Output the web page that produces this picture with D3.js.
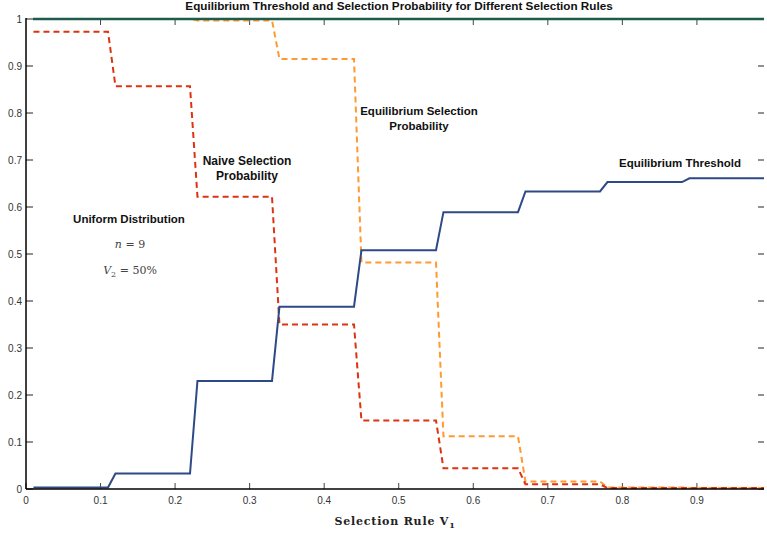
<!DOCTYPE html>
<html>
<head>
<meta charset="utf-8">
<script src="https://cdn.jsdelivr.net/npm/d3@7"></script>
<style>
	body { margin: 0; background: #fff; }
	svg text { font-family: "Liberation Sans", Arial, sans-serif; }
</style>
</head>
<body>
<div id="chart"></div>
<script>
	// step vertices
	var ruleX = [0.01, 0.11, 0.12, 0.22, 0.23, 0.33, 0.34, 0.44, 0.45, 0.55, 0.56, 0.66, 0.67, 0.77, 0.78, 0.88, 0.89, 0.99];
	var thresholdY = [0.003, 0.003, 0.033, 0.033, 0.23, 0.23, 0.388, 0.388, 0.508, 0.508, 0.589, 0.589, 0.633, 0.633, 0.653, 0.653, 0.661, 0.661];
	var naiveY = [0.973, 0.973, 0.857, 0.857, 0.622, 0.622, 0.35, 0.35, 0.146, 0.146, 0.044, 0.044, 0.01, 0.01, 0.002, 0.002, 0.002, 0.002];
	var eqSelY = [1, 1, 1, 1, 0.997, 0.997, 0.915, 0.915, 0.482, 0.482, 0.112, 0.112, 0.016, 0.016, 0.003, 0.003, 0.002, 0.002];
	var xTicks = [0, 0.1, 0.2, 0.3, 0.4, 0.5, 0.6, 0.7, 0.8, 0.9];
	var yTicks = [0, 0.1, 0.2, 0.3, 0.4, 0.5, 0.6, 0.7, 0.8, 0.9, 1];

	var width = 767, height = 533;
	var margin = { left: 26, right: 3, top: 19, bottom: 44 };

	var svg = d3.select("#chart").append("svg")
		.attr("width", width)
		.attr("height", height);

	var x = d3.scaleLinear().domain([0, 0.99]).range([margin.left, width - margin.right]);
	var y = d3.scaleLinear().domain([0, 1]).range([height - margin.bottom, margin.top]);

	// ticks, all pointing inside
	var tickCol = "#444";
	svg.append("g").selectAll("line.xb").data(xTicks).enter().append("line")
		.attr("x1", function(d) { return x(d); }).attr("x2", function(d) { return x(d); })
		.attr("y1", y(0)).attr("y2", y(0) - 6)
		.attr("stroke", tickCol).attr("stroke-width", 1);
	svg.append("g").selectAll("line.xt").data(xTicks.slice(1)).enter().append("line")
		.attr("x1", function(d) { return x(d); }).attr("x2", function(d) { return x(d); })
		.attr("y1", y(1)).attr("y2", y(1) + 6)
		.attr("stroke", tickCol).attr("stroke-width", 1);
	svg.append("g").selectAll("line.yl").data(yTicks).enter().append("line")
		.attr("x1", x(0)).attr("x2", x(0) + 7)
		.attr("y1", function(d) { return y(d); }).attr("y2", function(d) { return y(d); })
		.attr("stroke", "#222").attr("stroke-width", 1);
	svg.append("g").selectAll("line.yr").data(yTicks).enter().append("line")
		.attr("x1", width - margin.right - 6).attr("x2", width - margin.right)
		.attr("y1", function(d) { return y(d); }).attr("y2", function(d) { return y(d); })
		.attr("stroke", "#222").attr("stroke-width", 1);

	// tick labels
	svg.append("g").selectAll("text").data(xTicks).enter().append("text")
		.attr("x", function(d) { return x(d); })
		.attr("y", y(0) + 15)
		.attr("text-anchor", "middle")
		.style("font-size", "10px").style("fill", "#333")
		.text(function(d) { return d; });
	svg.append("g").selectAll("text").data(yTicks).enter().append("text")
		.attr("x", x(0) - 4)
		.attr("y", function(d) { return y(d) + 3.5; })
		.attr("text-anchor", "end")
		.style("font-size", "10px").style("fill", "#333")
		.text(function(d) { return d; });

	// series
	function pts(ys) {
		return ruleX.map(function(v, i) { return [v, ys[i]]; });
	}
	var line = d3.line().x(function(d) { return x(d[0]); }).y(function(d) { return y(d[1]); });

	svg.append("path").datum(pts(eqSelY))
		.attr("d", line).attr("fill", "none")
		.attr("stroke", "#ff9a30").attr("stroke-width", 2)
		.attr("stroke-dasharray", "6,4");
	svg.append("path").datum(pts(naiveY))
		.attr("d", line).attr("fill", "none")
		.attr("stroke", "#dd3311").attr("stroke-width", 2)
		.attr("stroke-dasharray", "6,4");
	svg.append("path").datum(pts(thresholdY))
		.attr("d", line).attr("fill", "none")
		.attr("stroke", "#2e4a86").attr("stroke-width", 2);

	// frame: left and bottom black, top dark green
	svg.append("line")
		.attr("x1", x(0)).attr("x2", x(0)).attr("y1", y(0)).attr("y2", y(1) - 1)
		.attr("stroke", "#000").attr("stroke-width", 1.5);
	svg.append("line")
		.attr("x1", x(0)).attr("x2", width - margin.right).attr("y1", y(0)).attr("y2", y(0))
		.attr("stroke", "#000").attr("stroke-width", 1.5);
	svg.append("line")
		.attr("x1", x(0) + 7).attr("x2", width - margin.right).attr("y1", y(1)).attr("y2", y(1))
		.attr("stroke", "#1d5c4a").attr("stroke-width", 2.6);

	// title and axis label
	svg.append("text")
		.attr("x", 399).attr("y", 10)
		.attr("text-anchor", "middle")
		.style("font-size", "11.7px").style("font-weight", "bold").style("fill", "#111")
		.text("Equilibrium Threshold and Selection Probability for Different Selection Rules");

	var xl = svg.append("text")
		.attr("x", 395).attr("y", 525)
		.attr("text-anchor", "middle")
		.style("font-family", "'DejaVu Serif', serif")
		.style("font-size", "11px").style("font-weight", "bold").style("fill", "#222")
		.style("letter-spacing", "0.8px");
	xl.append("tspan").text("Selection Rule V");
	xl.append("tspan").attr("dy", 3).style("font-size", "8px").text("1");

	// annotations
	function label(lines, cx, cy, fs) {
		lines.forEach(function(t, i) {
			svg.append("text")
				.attr("x", cx).attr("y", cy + i * 15)
				.attr("text-anchor", "middle")
				.style("font-size", (fs || 11.5) + "px").style("font-weight", "bold").style("fill", "#111")
				.text(t);
		});
	}
	label(["Naive Selection", "Probability"], 247, 165, 12);
	label(["Equilibrium Selection", "Probability"], 419, 115);
	label(["Equilibrium Threshold"], 680, 167);
	label(["Uniform Distribution"], 129, 223);

	var mathStyle = function(s) {
		return s.style("font-family", "'DejaVu Serif', 'Liberation Serif', serif")
			.style("font-size", "11px").style("fill", "#444");
	};
	var n = mathStyle(svg.append("text").attr("x", 130).attr("y", 248).attr("text-anchor", "middle"));
	n.append("tspan").style("font-style", "italic").text("n");
	n.append("tspan").text(" = 9");
	var v2 = mathStyle(svg.append("text").attr("x", 130).attr("y", 274).attr("text-anchor", "middle"));
	v2.append("tspan").style("font-style", "italic").text("V");
	v2.append("tspan").attr("dy", 3).style("font-size", "8px").text("2");
	v2.append("tspan").attr("dy", -3).text(" =  50%");
</script>
</body>
</html>
